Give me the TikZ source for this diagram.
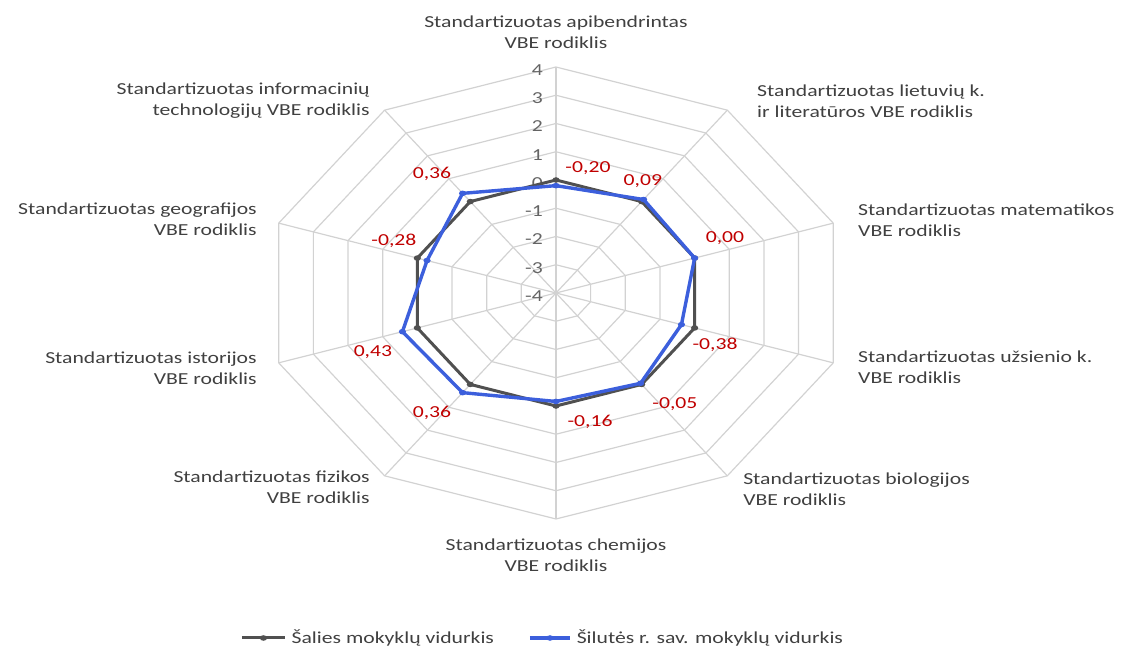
\documentclass[tikz,border=0pt]{standalone}
\usepackage{fontspec}
\setmainfont{Carlito}
\usetikzlibrary{positioning,calc}
\definecolor{gridgrey}{RGB}{210,210,210}
\definecolor{txtgrey}{RGB}{64,64,64}
\definecolor{tickgrey}{RGB}{100,100,100}
\definecolor{lblred}{RGB}{192,0,0}
\definecolor{salisgrey}{RGB}{80,80,80}
\definecolor{silblue}{RGB}{60,95,220}
\newcommand\chartfont{\fontsize{16.8}{21}\selectfont}
\newcommand\ringstep{28.25}

\begin{document}
\begin{tikzpicture}[x=1pt, y=1pt, xscale=1.29,
    every node/.append style={transform shape, inner sep=0pt, font=\chartfont},
    gridline/.style={draw=gridgrey, line width=1.2pt},
    ticklabel/.style={text=tickgrey, anchor=east},
    catlabel/.style={text=txtgrey},
    vallabel/.style={text=lblred},
    salis/.style={draw=salisgrey, line width=3pt, line join=round},
    silute/.style={draw=silblue, line width=3.4pt, line join=round},
    legtext/.style={text=txtgrey, anchor=west}]
    \useasboundingbox (-431,293) rectangle (438,-354);

    % grid rings and spokes
    \foreach \k in {1,...,8}
        \draw[gridline] (90:{\k*\ringstep}) \foreach \i in {1,...,9}{ -- ({90-36*\i}:{\k*\ringstep})} -- cycle;
    \foreach \i in {0,...,9}
        \draw[gridline] (0,0) -- ({90-36*\i}:{8*\ringstep});

    % axis values
    \foreach \t [count=\k from 0] in {-4,-3,-2,-1,0,1,2,3,4}
        \node[ticklabel] (tick\k) at (-10,{\k*\ringstep-3}) {\t};

    % data points
    \foreach \i in {0,...,9}
        \coordinate (s\i) at ({90-36*\i}:{4*\ringstep});
    \foreach \v [count=\i from 0] in {-0.20,0.09,0.00,-0.38,-0.05,-0.16,0.36,0.43,-0.28,0.36}
        \coordinate (b\i) at ({90-36*\i}:{(\v+4)*\ringstep});

    % Šalies series
    \draw[salis] (s0) \foreach \i in {1,...,9}{ -- (s\i)} -- cycle;
    \foreach \i in {0,...,9}
        \fill[salisgrey] (s\i) circle (2.8);
    % Šilutės series
    \draw[silute] (b0) \foreach \i in {1,...,9}{ -- (b\i)} -- cycle;
    \foreach \i in {0,...,9}
        \fill[silblue] (b\i) circle (2.8);

    % value labels
    \node[vallabel] (v0) at (24.8,125) {-0,20};
    \node[vallabel] (v1) at (67.4,112) {0,09};
    \node[vallabel] (v2) at (131,55) {0,00};
    \node[vallabel] (v3) at (123.3,-52) {-0,38};
    \node[vallabel] (v4) at (92.2,-111) {-0,05};
    \node[vallabel] (v5) at (26.4,-129) {-0,16};
    \node[vallabel] (v6) at (-96.1,-120) {0,36};
    \node[vallabel] (v7) at (-141.9,-59) {0,43};
    \node[vallabel] (v8) at (-125.6,52) {-0,28};
    \node[vallabel] (v9) at (-96.1,119) {0,36};

    % category labels
    \node[catlabel, align=center] (apib) at (0,260.5) {Standartizuotas apibendrintas\\VBE rodiklis};
    \node[catlabel, align=left, anchor=west] (liet) at (155.8,192) {Standartizuotas lietuvių k.\\ir literatūros VBE rodiklis};
    \node[catlabel, align=left, anchor=west] (mat) at (234.1,73) {Standartizuotas matematikos\\VBE rodiklis};
    \node[catlabel, align=left, anchor=west] (uzs) at (234.1,-74) {Standartizuotas užsienio k.\\VBE rodiklis};
    \node[catlabel, align=left, anchor=west] (biol) at (145,-196) {Standartizuotas biologijos\\VBE rodiklis};
    \node[catlabel, align=center] (chem) at (0,-262) {Standartizuotas chemijos\\VBE rodiklis};
    \node[catlabel, align=right, anchor=east] (fiz) at (-144.2,-194.5) {Standartizuotas fizikos\\VBE rodiklis};
    \node[catlabel, align=right, anchor=east] (ist) at (-231.8,-75) {Standartizuotas istorijos\\VBE rodiklis};
    \node[catlabel, align=right, anchor=east] (geo) at (-231.8,74) {Standartizuotas geografijos\\VBE rodiklis};
    \node[catlabel, align=right, anchor=east] (it) at (-144.2,192) {Standartizuotas informacinių\\technologijų VBE rodiklis};

    % legend
    \coordinate (lsal1) at (-243.4,-345);
    \coordinate (lsal2) at (-210.1,-345);
    \draw[salis] (lsal1) -- (lsal2);
    \fill[salisgrey] ($(lsal1)!0.5!(lsal2)$) circle (2.8);
    \node[legtext, right=5 of lsal2] (lsaltxt) {Šalies mokyklų vidurkis};
    \coordinate (lsil1) at (-20.2,-345);
    \coordinate (lsil2) at (10.9,-345);
    \draw[silute] (lsil1) -- (lsil2);
    \fill[silblue] ($(lsil1)!0.5!(lsil2)$) circle (2.8);
    \node[legtext, right=5 of lsil2] (lsiltxt) {Šilutės r. sav. mokyklų vidurkis};
\end{tikzpicture}
\end{document}
